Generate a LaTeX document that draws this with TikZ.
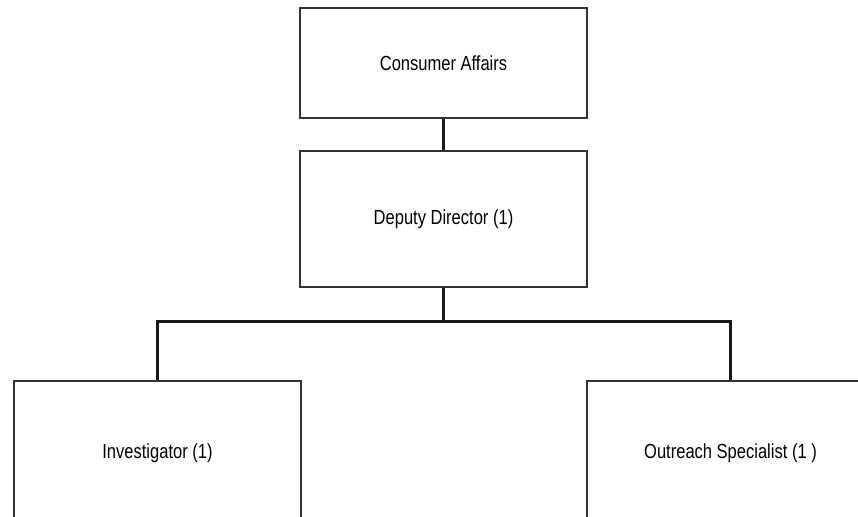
\documentclass[tikz,border=0pt]{standalone}
\usepackage{fontspec}
\setmainfont[FakeStretch=0.81]{Liberation Sans}
\tikzstyle{unit} = [
    rectangle,
    minimum width=215.25pt, minimum height=102pt,
    text centered,
    draw=black!80, line width=0.8pt,
    font=\fontsize{15.3}{18}\selectfont
]
\tikzstyle{link} = [line width=1.6pt, draw=black!90]

\begin{document}
\begin{tikzpicture}[x=0.75pt, y=-0.75pt, node distance=117pt]
        \path [use as bounding box, clip] (0,0) rectangle (858,517);
        % Draw blocks
        \node (office) [unit, minimum height=82.5pt] at (443.5,63) {Consumer Affairs};
        \node (deputy) [unit, below of=office] {Deputy Director (1)};
        \node (investigator) [unit, minimum height=108pt, below of=deputy, xshift=-214.5pt, yshift=-58.5pt] {Investigator (1)};
        \node (outreach) [unit, minimum height=108pt, right of=investigator, xshift=312.75pt] {Outreach Specialist (1 )};

        % Draw lines
        \draw [link] (office) -- (deputy);
        \draw [link] (deputy.south) -- ++(0,34) -| (investigator.north);
        \draw [link] (deputy.south) -- ++(0,34) -| (outreach.north);
    \end{tikzpicture}
\end{document}
